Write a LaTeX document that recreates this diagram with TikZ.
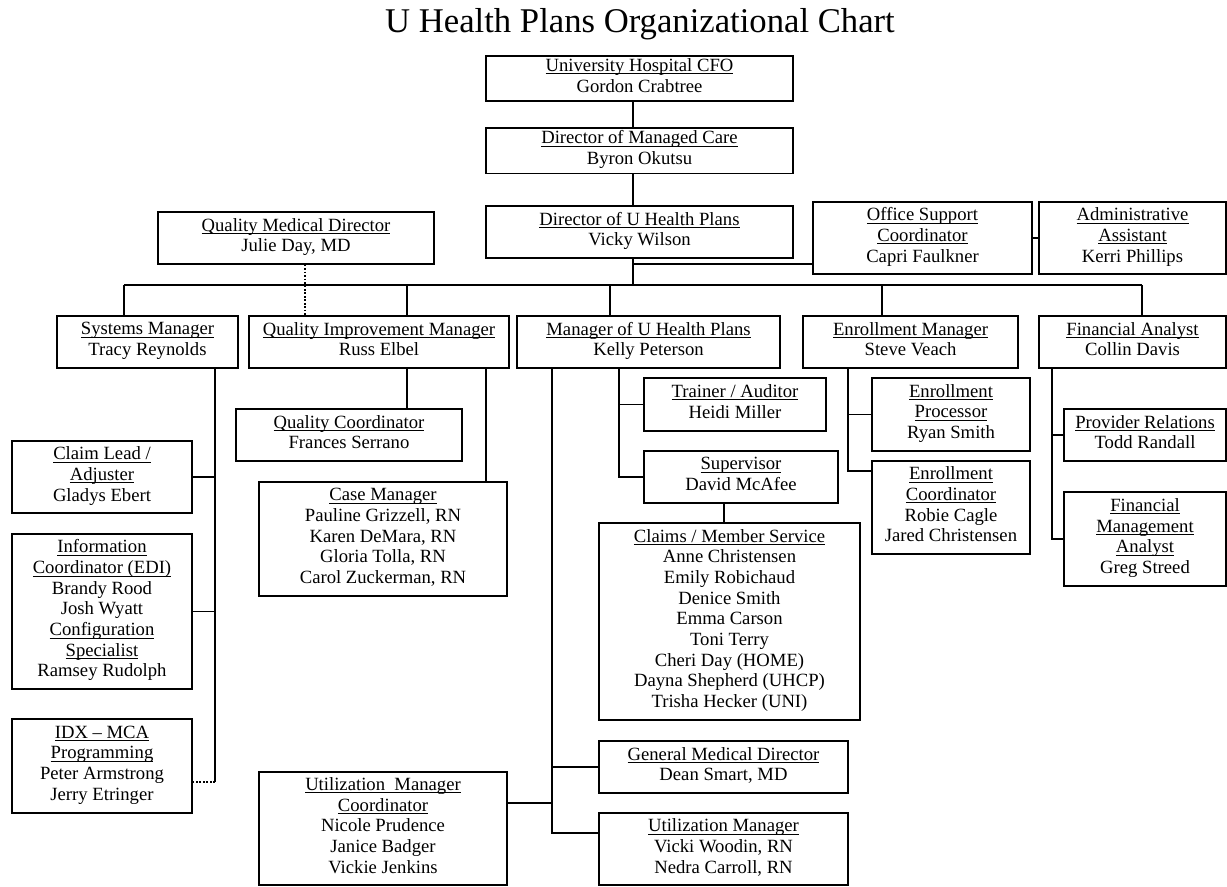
\documentclass[tikz,border=0pt]{standalone}
\usepackage{fontspec}
\setmainfont{Liberation Serif}
\usetikzlibrary{positioning}

\newcommand\uln[1]{\setbox0\hbox{#1}\rlap{\rule[-2.1pt]{\wd0}{0.65pt}}\box0}

\tikzstyle{post}=[draw, line width=1pt, align=center, inner sep=2pt,
  font=\fontsize{14}{15.5}\selectfont,
  execute at begin node=\rule{0pt}{14.6pt}, execute at end node=\strut]
\tikzstyle{link}=[line width=1.05pt]
\tikzstyle{dotlink}=[line width=1.2pt, dash pattern=on 1.3pt off 1.3pt]
\tikzset{sz/.style 2 args={minimum width=#1*0.75pt, minimum height=#2*0.75pt}}

\begin{document}
\begin{tikzpicture}[x=0.75pt, y=-0.75pt]
    \useasboundingbox (0, 0) rectangle (1227, 886);
    \node[font=\fontsize{26}{30}\selectfont, anchor=base] (title) at (640, 32) {U Health Plans Organizational Chart};
    % top of the chart
    \node[post, sz={307}{43}] (cfo) at (639.5, 78.5) {\uln{University Hospital CFO}\\Gordon Crabtree};
    \node[post, sz={307}{43}] (care) at (639.5, 150.5) {\uln{Director of Managed Care}\\Byron Okutsu};
    \node[post, sz={307}{52}] (dir) at (639.5, 232) {\uln{Director of U Health Plans}\\Vicky Wilson};
    \node[post, sz={276}{52}] (qmd) at (296, 238) {\uln{Quality Medical Director}\\Julie Day, MD};
    \node[post, sz={219}{72}] (office) at (922.5, 238) {\uln{Office Support}\\\uln{Coordinator}\\Capri Faulkner};
    \node[post, sz={187}{72}] (admin) at (1132.5, 238) {\uln{Administrative}\\\uln{Assistant}\\Kerri Phillips};
    % managers
    \node[post, sz={181}{52}] (sys) at (147.5, 342) {\uln{Systems Manager}\\Tracy Reynolds};
    \node[post, sz={260}{52}] (qim) at (379, 342) {\uln{Quality Improvement Manager}\\Russ Elbel};
    \node[post, sz={263}{52}] (mgr) at (648.5, 342) {\uln{Manager of U Health Plans}\\Kelly Peterson};
    \node[post, sz={215}{52}] (enr) at (910.5, 342) {\uln{Enrollment Manager}\\Steve Veach};
    \node[post, sz={187}{52}] (fin) at (1132.5, 342) {\uln{Financial Analyst}\\Collin Davis};
    % staff
    \node[post, sz={180}{72}] (claim) at (102, 477) {\uln{Claim Lead /}\\\uln{Adjuster}\\Gladys Ebert};
    \node[post, sz={180}{155}] (info) at (102, 611.5) {\uln{Information}\\\uln{Coordinator (EDI)}\\Brandy Rood\\Josh Wyatt\\\uln{Configuration}\\\uln{Specialist}\\Ramsey Rudolph};
    \node[post, sz={180}{94}] (idx) at (102, 766) {\uln{IDX -- MCA}\\\uln{Programming}\\Peter Armstrong\\Jerry Etringer};
    \node[post, sz={226}{52}] (qc) at (349, 435) {\uln{Quality Coordinator}\\Frances Serrano};
    \node[post, sz={248}{114}] (case) at (383, 539) {\uln{Case Manager}\\Pauline Grizzell, RN\\Karen DeMara, RN\\Gloria Tolla, RN\\Carol Zuckerman, RN};
    \node[post, sz={248}{113}] (umc) at (383, 828.5) {\uln{Utilization~ Manager}\\\uln{Coordinator}\\Nicole Prudence\\Janice Badger\\Vickie Jenkins};
    \node[post, sz={182}{53}] (trainer) at (735, 404.5) {\uln{Trainer / Auditor}\\Heidi Miller};
    \node[post, sz={194}{52}] (sup) at (741, 477) {\uln{Supervisor}\\David McAfee};
    \node[post, sz={261}{197}] (claims) at (729.5, 621.5) {\uln{Claims / Member Service}\\Anne Christensen\\Emily Robichaud\\Denice Smith\\Emma Carson\\Toni Terry\\Cheri Day (HOME)\\Dayna Shepherd (UHCP)\\Trisha Hecker (UNI)};
    \node[post, sz={249}{52}] (gmd) at (723.5, 767) {\uln{General Medical Director}\\Dean Smart, MD};
    \node[post, sz={249}{72}] (um) at (723.5, 849) {\uln{Utilization Manager}\\Vicki Woodin, RN\\Nedra Carroll, RN};
    \node[post, sz={158}{73}] (eproc) at (951, 414.5) {\uln{Enrollment}\\\uln{Processor}\\Ryan Smith};
    \node[post, sz={158}{93}] (ecoord) at (951, 507.5) {\uln{Enrollment}\\\uln{Coordinator}\\Robie Cagle\\Jared Christensen};
    \node[post, sz={162}{52}] (prov) at (1145, 435) {\uln{Provider Relations}\\Todd Randall};
    \node[post, sz={162}{94}] (fma) at (1145, 539) {\uln{Financial}\\\uln{Management}\\\uln{Analyst}\\Greg Streed};
    % joints
    \coordinate (topx) at (633, 0);
    \coordinate (busj) at (633, 285);
    \coordinate (officej) at (633, 264);
    \coordinate (busL) at (124, 285);
    \coordinate (busQ) at (407, 285);
    \coordinate (busM) at (610, 285);
    \coordinate (busE) at (882, 285);
    \coordinate (busR) at (1142, 285);
    \coordinate (dotx) at (305, 0);
    \coordinate (sysend) at (215, 782);
    \coordinate (qcx) at (407, 0);
    \coordinate (casex) at (486, 0);
    \coordinate (mgrend) at (552, 833);
    \coordinate (umcj) at (552, 803);
    \coordinate (trainx) at (619, 0);
    \coordinate (claimsx) at (724, 0);
    \coordinate (enrend) at (848, 471);
    \coordinate (finx) at (1052, 0);
    % lines
    \draw[link] (cfo.south -| topx) -- (care.north -| topx);
    \draw[link] (care.south -| topx) -- (dir.north -| topx);
    \draw[link] (dir.south -| topx) -- (busj);
    \draw[link] (officej) -- (office.west |- officej);
    \draw[link] (office.east) -- (admin.west);
    \draw[link] (busL) -- (busR);
    \draw[link] (busL) -- (sys.north -| busL);
    \draw[link] (busQ) -- (qim.north -| busQ);
    \draw[link] (busM) -- (mgr.north -| busM);
    \draw[link] (busE) -- (enr.north -| busE);
    \draw[link] (busR) -- (fin.north -| busR);
    \draw[dotlink] (qmd.south -| dotx) -- (qim.north -| dotx);
    \draw[link] (sys.south -| sysend) -- (sysend);
    \draw[link] (claim.east) -- (claim.east -| sysend);
    \draw[link] (info.east) -- (info.east -| sysend);
    \draw[dotlink] (sysend) -- (idx.east |- sysend);
    \draw[link] (qim.south -| qcx) -- (qc.north -| qcx);
    \draw[link] (qim.south -| casex) -- (case.north -| casex);
    \draw[link] (mgr.south -| mgrend) -- (mgrend) -- (um.west |- mgrend);
    \draw[link] (gmd.west) -- (gmd.west -| mgrend);
    \draw[link] (umc.east |- umcj) -- (umcj);
    \draw[link] (mgr.south -| trainx) |- (sup.west);
    \draw[link] (trainer.west) -- (trainer.west -| trainx);
    \draw[link] (sup.south -| claimsx) -- (claims.north -| claimsx);
    \draw[link] (enr.south -| enrend) -- (enrend) -- (ecoord.west |- enrend);
    \draw[link] (eproc.west) -- (eproc.west -| enrend);
    \draw[link] (fin.south -| finx) |- (fma.west);
    \draw[link] (prov.west) -- (prov.west -| finx);
  \end{tikzpicture}
\end{document}
